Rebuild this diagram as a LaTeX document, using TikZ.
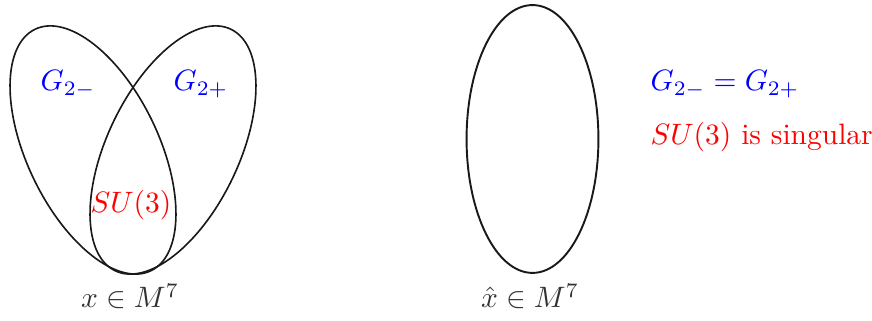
\documentclass[tikz,border=0pt]{standalone}
\usetikzlibrary{shapes.geometric}
\begin{document}
\begin{tikzpicture}[x=0.339pt,y=-0.339pt,
  ell/.style={draw=black!90,line width=0.55pt,ellipse,inner sep=0pt,minimum width=44.7pt,minimum height=90.8pt},
  blue lbl/.style={text=blue,inner sep=0pt},
  red lbl/.style={text=red,inner sep=0pt},
  gray lbl/.style={text=black!80,inner sep=0pt}]
\useasboundingbox (0,0) rectangle (872,321);
\node[ell,rotate=25.6] (L) at (93,150) {};
\node[ell,rotate=-25.6] (R) at (173,150) {};
\node[ell,line width=0.65pt] (E) at (532.5,139) {};
\node[blue lbl,anchor=base west] (gm) at (40,91) {$G_{2-}$};
\node[blue lbl,anchor=base west] (gp) at (173,91) {$G_{2+}$};
\node[red lbl,anchor=base] (su) at (131,213) {$SU(3)$};
\node[gray lbl,anchor=base] (x) at (130,308) {$x\in M^7$};
\node[gray lbl,anchor=base] (xh) at (530,308) {$\hat{x}\in M^7$};
\node[blue lbl,anchor=base west] (eq) at (650,91) {$G_{2-}=G_{2+}$};
\node[red lbl,anchor=base west] (sing) at (650,145) {$SU(3)$ is singular};
\end{tikzpicture}
\end{document}
